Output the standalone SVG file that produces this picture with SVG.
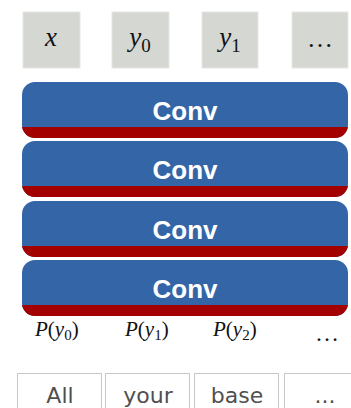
<svg xmlns="http://www.w3.org/2000/svg" width="351" height="408" viewBox="0 0 351 408">
<style>
.tok{fill:#d5d7d2;stroke:#e6e7e4;stroke-width:1}
.math{font-family:"Liberation Serif","DejaVu Serif",serif;fill:#111}
.conv{font-family:"Liberation Sans",Arial,sans-serif;font-weight:bold;font-size:26px;fill:#fff;text-anchor:middle}
.blue{fill:#3465a6}
.red{fill:#a30000}
.word{fill:#fff;stroke:#c8c8c8;stroke-width:1}
.wt{font-family:"DejaVu Sans",sans-serif;font-size:22px;fill:#505050;text-anchor:middle}
</style>
<defs>
<clipPath id="bar"><rect x="22" y="0" width="326" height="56" rx="13"/></clipPath>
</defs>
<rect width="351" height="408" fill="#fff"/>
<g id="x"><rect class="tok" x="23" y="12" width="57" height="56"/><text class="math" x="51" y="46" font-size="27" font-style="italic" text-anchor="middle">x</text></g>
<g id="y0"><rect class="tok" x="112" y="12" width="57" height="56"/><text class="math" x="140" y="46" font-size="27" text-anchor="middle"><tspan font-style="italic">y</tspan><tspan font-size="19" dy="6">0</tspan></text></g>
<g id="y1"><rect class="tok" x="202" y="12" width="56" height="56"/><text class="math" x="230" y="46" font-size="27" text-anchor="middle"><tspan font-style="italic">y</tspan><tspan font-size="19" dy="6">1</tspan></text></g>
<g id="dots"><rect class="tok" x="292" y="12" width="56" height="56"/><text class="math" x="320" y="47" font-size="26" text-anchor="middle">…</text></g>

<g id="conv1" transform="translate(0,82)"><g clip-path="url(#bar)"><rect class="blue" x="22" y="0" width="326" height="56"/><rect class="red" x="22" y="45" width="326" height="11"/></g><text class="conv" x="185" y="38">Conv</text></g>
<g id="conv2" transform="translate(0,141)"><g clip-path="url(#bar)"><rect class="blue" x="22" y="0" width="326" height="56"/><rect class="red" x="22" y="45" width="326" height="11"/></g><text class="conv" x="185" y="38">Conv</text></g>
<g id="conv3" transform="translate(0,201)"><g clip-path="url(#bar)"><rect class="blue" x="22" y="0" width="326" height="56"/><rect class="red" x="22" y="45" width="326" height="11"/></g><text class="conv" x="185" y="38">Conv</text></g>
<g id="conv4" transform="translate(0,260)"><g clip-path="url(#bar)"><rect class="blue" x="22" y="0" width="326" height="56"/><rect class="red" x="22" y="45" width="326" height="11"/></g><text class="conv" x="185" y="38">Conv</text></g>

<g id="p0"><text class="math" x="35" y="336" font-size="21"><tspan font-style="italic">P</tspan>(<tspan font-style="italic">y</tspan><tspan font-size="15" dy="4">0</tspan><tspan dy="-4">)</tspan></text></g>
<g id="p1"><text class="math" x="125" y="336" font-size="21"><tspan font-style="italic">P</tspan>(<tspan font-style="italic">y</tspan><tspan font-size="15" dy="4">1</tspan><tspan dy="-4">)</tspan></text></g>
<g id="p2"><text class="math" x="213" y="336" font-size="21"><tspan font-style="italic">P</tspan>(<tspan font-style="italic">y</tspan><tspan font-size="15" dy="4">2</tspan><tspan dy="-4">)</tspan></text></g>
<g id="pdots"><text class="math" x="327" y="341" font-size="24" text-anchor="middle">…</text></g>

<g id="w1"><rect class="word" x="17.5" y="373.5" width="84" height="40"/><text class="wt" x="60" y="403">All</text></g>
<g id="w2"><rect class="word" x="105.5" y="373.5" width="84" height="40"/><text class="wt" x="148" y="403">your</text></g>
<g id="w3"><rect class="word" x="194.5" y="373.5" width="84" height="40"/><text class="wt" x="237" y="403">base</text></g>
<g id="w4"><rect class="word" x="284.5" y="373.5" width="70" height="40"/><text class="wt" x="325" y="403">...</text></g>
</svg>
